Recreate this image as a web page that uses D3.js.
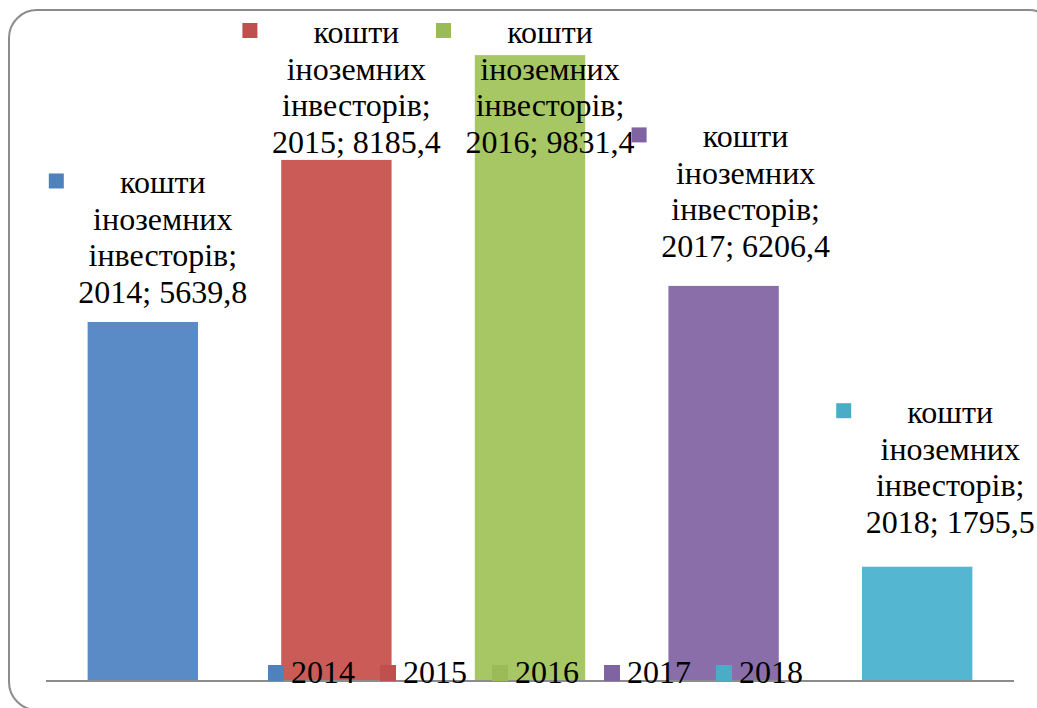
<!DOCTYPE html>
<meta charset="utf-8">
<style>
body { margin: 0; background: #fff; }
</style>
<body>
<script src="https://cdn.jsdelivr.net/npm/d3@7"></script>
<script>

// data
var years = ["2014", "2015", "2016", "2017", "2018"];
var values = [5639.8, 8185.4, 9831.4, 6206.4, 1795.5];
var labelLines = ["кошти", "іноземних", "інвесторів;"];

var barColors = ["#5a8bc7", "#cb5b57", "#a7c664", "#8a6eaa", "#54b6d1"];
var keyColors = ["#4f81bd", "#c0504d", "#9bbb59", "#8064a2", "#4bacc6"];

// label placement tweaks (gap above bar, horizontal nudge)
var labelGap = [19, 27, 27, 29, 34];
var labelDx = [0, 0, 0, 2, 13];

var W = 1037, H = 708;
var serif = "'Liberation Serif', 'Times New Roman', serif";

var svg = d3.select("body").append("svg")
    .attr("width", W)
    .attr("height", H);

// outer rounded frame
svg.append("rect")
    .attr("x", 9).attr("y", 10)
    .attr("width", 1048).attr("height", 700)
    .attr("rx", 28).attr("ry", 28)
    .attr("fill", "none")
    .attr("stroke", "#8c8c8c")
    .attr("stroke-width", 2);

// scales
var x = d3.scaleBand()
    .domain(years)
    .range([46, 1014])
    .paddingInner(0.43)
    .paddingOuter(0.215);

var y = d3.scaleLinear()
    .domain([0, 10000])
    .range([681, 44.4]);

// bars
svg.selectAll(".bar")
    .data(years)
  .enter().append("rect")
    .attr("class", "bar")
    .attr("x", function(d) { return x(d); })
    .attr("y", function(d, i) { return y(values[i]); })
    .attr("width", x.bandwidth())
    .attr("height", function(d, i) { return y(0) - y(values[i]); })
    .attr("fill", function(d, i) { return barColors[i]; });

// baseline
svg.append("line")
    .attr("x1", 46).attr("x2", 1014)
    .attr("y1", y(0)).attr("y2", y(0))
    .attr("stroke", "#8c8c8c")
    .attr("stroke-width", 2);

// legend
var legend = svg.append("g");
var itemW = 112, legendX = 268;
years.forEach(function(d, i) {
  var g = legend.append("g")
      .attr("transform", "translate(" + (legendX + i * itemW) + ",0)");
  g.append("rect")
      .attr("x", 0).attr("y", 665)
      .attr("width", 16).attr("height", 16)
      .attr("fill", keyColors[i]);
  g.append("text")
      .attr("x", 23).attr("y", 683)
      .attr("font-family", serif)
      .attr("font-size", 32)
      .attr("fill", "#000")
      .text(d);
});

// data labels
var lineH = 36.5, fs = 32;
years.forEach(function(d, i) {
  var cx = x(d) + x.bandwidth() / 2 + labelDx[i];
  var top = y(values[i]);
  var first = Math.max(43, top - labelGap[i] - 3 * lineH);
  var g = svg.append("g");
  g.append("rect")
      .attr("x", cx - 94).attr("y", first - 20)
      .attr("width", 15).attr("height", 15)
      .attr("fill", keyColors[i]);
  var lines = labelLines.concat([d + "; " + String(values[i]).replace(".", ",")]);
  g.selectAll("text")
      .data(lines)
    .enter().append("text")
      .attr("x", cx + 20)
      .attr("y", function(t, j) { return first + j * lineH; })
      .attr("text-anchor", "middle")
      .attr("font-family", serif)
      .attr("font-size", fs)
      .attr("fill", "#000")
      .text(function(t) { return t; });
});

</script>
</body>
